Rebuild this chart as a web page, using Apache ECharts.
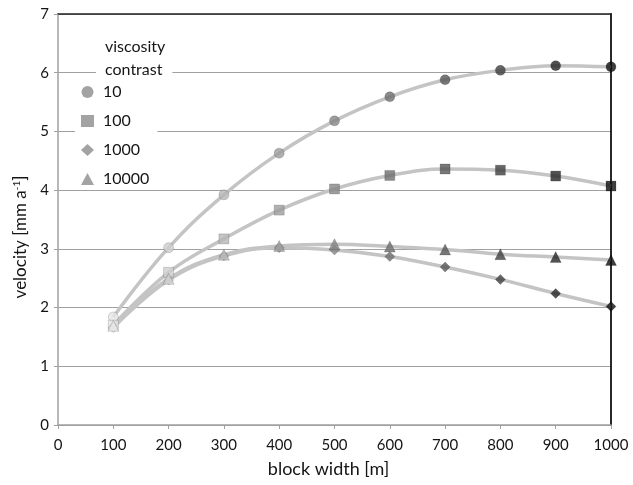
<!DOCTYPE html>
<html><head><meta charset="utf-8">
<script src="https://cdn.jsdelivr.net/npm/echarts@6/dist/echarts.min.js"></script>
<style>html,body{margin:0;padding:0;background:#fff}#c{width:633px;height:485px}</style>
</head><body><div id="c"></div>
<script>
var widths = [100, 200, 300, 400, 500, 600, 700, 800, 900, 1000];
var xTicks = [0, 100, 200, 300, 400, 500, 600, 700, 800, 900, 1000];
var yTicks = [0, 1, 2, 3, 4, 5, 6, 7];
var seriesNames = ['10', '100', '1000', '10000'];
var v10 = [1.84, 3.02, 3.92, 4.63, 5.18, 5.59, 5.88, 6.04, 6.12, 6.10];
var v100 = [1.70, 2.60, 3.17, 3.66, 4.02, 4.25, 4.36, 4.34, 4.24, 4.07];
var v1000 = [1.66, 2.47, 2.88, 3.02, 2.98, 2.87, 2.69, 2.48, 2.24, 2.02];
var v10000 = [1.69, 2.49, 2.90, 3.05, 3.08, 3.04, 2.99, 2.91, 2.86, 2.81];

var font = 'Lato';
var txt = '#151515';
var values = [v10, v100, v1000, v10000];
var symbols = ['circle', 'rect', 'diamond', 'triangle'];
var sizes = [10, 10, 10, 11];
function pairs(arr) { return widths.map(function (w, i) { return [w, arr[i]]; }); }

var series = [];
values.forEach(function (arr, k) {
  series.push({
    type: 'line', data: pairs(arr), smooth: 0.4, showSymbol: false, symbol: 'none',
    lineStyle: { color: '#c4c4c4', width: 3.5 }, itemStyle: { color: '#c4c4c4' },
    silent: true, z: 2, legendHoverLink: false
  });
});
values.forEach(function (arr, k) {
  series.push({
    name: seriesNames[k], type: 'scatter', data: pairs(arr), symbol: symbols[k], symbolSize: sizes[k],
    itemStyle: { borderColor: 'rgba(0,0,0,0.25)', borderWidth: 0.8 }, z: 5
  });
});

var chart = echarts.init(document.getElementById('c'));
chart.setOption({
  animation: false,
  textStyle: { fontFamily: font },
  grid: { left: 58, right: 22, top: 14, bottom: 60 },
  title: {
    text: 'viscosity\ncontrast', left: 96, top: 33, padding: [2, 7, 2, 9],
    backgroundColor: '#fff',
    textStyle: { fontFamily: font, fontSize: 16, fontWeight: 'normal', color: txt, lineHeight: 23 }
  },
  legend: {
    data: seriesNames.map(function (n, k) { return { name: n, icon: symbols[k], itemStyle: { color: '#8c8c8c', borderWidth: 0 } }; }),
    orient: 'vertical', left: 75, top: 83, padding: [0, 8, 0, 6],
    backgroundColor: '#fff', itemWidth: 13, itemHeight: 12, itemGap: 11,
    textStyle: { fontFamily: font, fontSize: 16, color: txt, lineHeight: 18, padding: [0, 0, 0, 4] },
    selectedMode: false
  },
  visualMap: {
    show: false, type: 'continuous', dimension: 0, min: 100, max: 1000,
    seriesIndex: [4, 5, 6, 7], inRange: { color: ['#e6e6e6', '#0e0e0e'] }
  },
  xAxis: [{
    type: 'value', min: 0, max: 1000, interval: 100,
    name: 'block width [m]', nameLocation: 'middle', nameGap: 35,
    nameTextStyle: { fontFamily: font, fontSize: 18, color: txt, padding: [0, 12, 0, 0] },
    axisLine: { show: true, lineStyle: { color: '#a0a0a0', width: 1.5 } },
    axisTick: { show: true, length: 4, lineStyle: { color: '#a0a0a0' } },
    axisLabel: { fontFamily: font, fontSize: 15, color: txt, margin: 13,
      formatter: function (v) { return xTicks.indexOf(v) >= 0 ? String(v) : ''; } },
    splitLine: { show: false }
  }, {
    type: 'value', min: 0, max: 1000, position: 'top',
    axisLine: { show: true, onZero: false, lineStyle: { color: '#222', width: 1.5 } },
    axisTick: { show: false }, axisLabel: { show: false }, splitLine: { show: false }
  }],
  yAxis: [{
    type: 'value', min: 0, max: 7, interval: 1,
    name: 'velocity [mm a{sup|-1}]', nameLocation: 'middle', nameGap: 28,
    nameTextStyle: { fontFamily: font, fontSize: 17, color: txt, padding: [0, 35, 0, 0],
      rich: { sup: { fontFamily: font, fontSize: 10, color: txt, verticalAlign: 'top', padding: [0, 0, 8, 0] } } },
    axisLine: { show: true, lineStyle: { color: '#a0a0a0', width: 1.5 } },
    axisTick: { show: true, length: 4, lineStyle: { color: '#a0a0a0' } },
    axisLabel: { fontFamily: font, fontSize: 15, color: txt, margin: 9,
      formatter: function (v) { return yTicks.indexOf(v) >= 0 ? String(v) : ''; } },
    splitLine: { show: true, lineStyle: { color: '#a0a0a0', width: 1.2 } }
  }, {
    type: 'value', min: 0, max: 7, position: 'right',
    axisLine: { show: true, onZero: false, lineStyle: { color: '#111', width: 1.8 } },
    axisTick: { show: false }, axisLabel: { show: false }, splitLine: { show: false }
  }],
  series: series
});
</script></body></html>
